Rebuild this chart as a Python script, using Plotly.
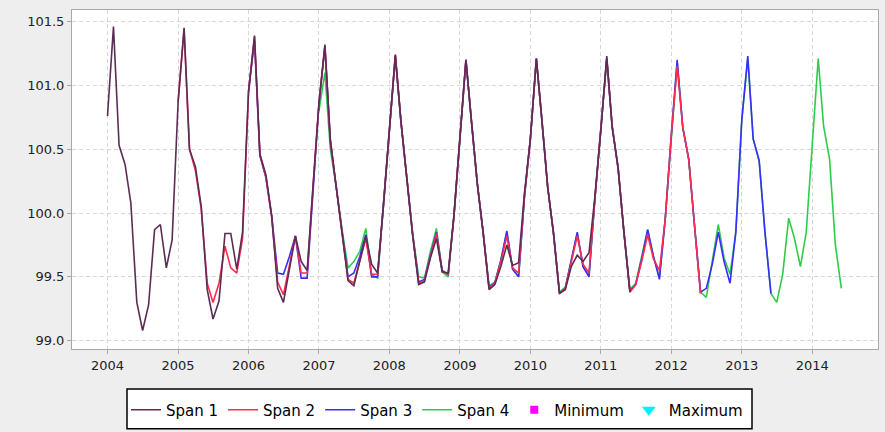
import pandas as pd
import plotly.graph_objects as go

# ---- data (monthly values) ----
span1_start = "2004-01-01"
span2_start = "2005-01-01"
span3_start = "2006-01-01"
span4_start = "2007-01-01"

span1 = (
    [100.76, 101.46, 100.53, 100.38, 100.08, 99.30, 99.08, 99.28, 99.87, 99.91, 99.57, 99.79]
    + [100.87, 101.45, 100.50, 100.36, 100.05, 99.40, 99.17, 99.31, 99.84, 99.84, 99.56, 99.85]
    + [100.95, 101.39, 100.46, 100.30, 99.98, 99.41, 99.30, 99.55, 99.82, 99.62, 99.55, 100.20]
    + [100.86, 101.32, 100.58, 100.20, 99.83, 99.47, 99.43, 99.62, 99.82, 99.60, 99.53, 100.05]
    + [100.68, 101.24, 100.72, 100.27, 99.82, 99.44, 99.46, 99.65, 99.80, 99.54, 99.53, 99.98]
    + [100.58, 101.20, 100.73, 100.23, 99.85, 99.40, 99.44, 99.58, 99.75, 99.59, 99.61, 100.15]
    + [100.58, 101.21, 100.74, 100.20, 99.84, 99.37, 99.40, 99.58, 99.67, 99.62, 99.69, 100.12]
    + [100.64, 101.23, 100.67, 100.35, 99.85, 99.38]
)
span2 = (
    [100.87, 101.44, 100.50, 100.33, 100.03, 99.45, 99.30, 99.45, 99.74, 99.57, 99.53, 99.80]
    + [100.95, 101.38, 100.46, 100.28, 99.97, 99.46, 99.36, 99.58, 99.82, 99.53, 99.53, 100.20]
    + [100.86, 101.31, 100.57, 100.20, 99.84, 99.48, 99.45, 99.63, 99.80, 99.52, 99.52, 100.05]
    + [100.68, 101.24, 100.72, 100.27, 99.83, 99.45, 99.47, 99.66, 99.84, 99.54, 99.52, 99.98]
    + [100.58, 101.20, 100.73, 100.23, 99.85, 99.41, 99.45, 99.62, 99.82, 99.57, 99.53, 100.13]
    + [100.58, 101.21, 100.74, 100.20, 99.84, 99.37, 99.41, 99.62, 99.82, 99.60, 99.53, 100.10]
    + [100.64, 101.21, 100.68, 100.35, 99.85, 99.38, 99.44, 99.62, 99.83, 99.64, 99.55, 99.95]
    + [100.60, 101.15, 100.67, 100.42, 99.90, 99.37]
)
span3 = (
    [100.95, 101.35, 100.45, 100.28, 99.98, 99.53, 99.52, 99.66, 99.82, 99.49, 99.49, 100.18]
    + [100.85, 101.30, 100.56, 100.20, 99.85, 99.50, 99.53, 99.66, 99.83, 99.50, 99.50, 100.05]
    + [100.68, 101.23, 100.72, 100.27, 99.83, 99.46, 99.48, 99.67, 99.85, 99.55, 99.52, 99.98]
    + [100.58, 101.20, 100.73, 100.23, 99.85, 99.42, 99.45, 99.63, 99.86, 99.56, 99.50, 100.12]
    + [100.58, 101.21, 100.74, 100.20, 99.84, 99.37, 99.41, 99.63, 99.85, 99.58, 99.50, 100.10]
    + [100.64, 101.21, 100.68, 100.35, 99.85, 99.39, 99.44, 99.64, 99.87, 99.66, 99.48, 99.95]
    + [100.60, 101.20, 100.67, 100.42, 99.90, 99.38, 99.41, 99.60, 99.85, 99.62, 99.45, 99.85]
    + [100.73, 101.23, 100.58, 100.41, 99.85, 99.37]
)
span4 = (
    [100.80, 101.10, 100.50, 100.20, 99.87, 99.57, 99.62, 99.70, 99.88, 99.52, 99.49, 100.05]
    + [100.68, 101.22, 100.72, 100.27, 99.84, 99.50, 99.49, 99.70, 99.88, 99.54, 99.50, 99.98]
    + [100.58, 101.19, 100.73, 100.23, 99.85, 99.43, 99.46, 99.63, 99.85, 99.56, 99.50, 100.12]
    + [100.58, 101.20, 100.74, 100.20, 99.84, 99.38, 99.42, 99.62, 99.84, 99.58, 99.51, 100.10]
    + [100.64, 101.20, 100.68, 100.35, 99.85, 99.40, 99.45, 99.65, 99.87, 99.66, 99.50, 99.95]
    + [100.60, 101.18, 100.67, 100.42, 99.90, 99.38, 99.34, 99.62, 99.91, 99.65, 99.52, 99.85]
    + [100.73, 101.21, 100.58, 100.41, 99.85, 99.37, 99.30, 99.52, 99.96, 99.80, 99.58, 99.85]
    + [100.55, 101.21, 100.68, 100.42, 99.75, 99.41]
)

y_ticks = [99.0, 99.5, 100.0, 100.5, 101.0, 101.5]
names = ["Span 1", "Span 2", "Span 3", "Span 4"]
colors = ["#5a2d55", "#ff2a50", "#3a2bff", "#2fcc4c"]

series = [
    (span1_start, span1),
    (span2_start, span2),
    (span3_start, span3),
    (span4_start, span4),
]

fig = go.Figure()
# draw Span 4 first so Span 1 lies on top
for idx in [3, 2, 1, 0]:
    start, vals = series[idx]
    x = pd.date_range(start, periods=len(vals), freq="MS")
    fig.add_trace(go.Scatter(
        x=x, y=vals, mode="lines", name=names[idx],
        line=dict(color=colors[idx], width=1.6),
        legendrank=idx + 1,
    ))

fig.add_trace(go.Scatter(
    x=[None], y=[None], mode="markers", name="Minimum",
    marker=dict(symbol="square", color="#ff00ff", size=8),
    legendrank=5,
))
fig.add_trace(go.Scatter(
    x=[None], y=[None], mode="markers", name="Maximum",
    marker=dict(symbol="triangle-down", color="#00f0ff", size=12),
    legendrank=6,
))

font_family = "DejaVu Sans"
W, H = 885, 432
ML, MR, MT, MB = 72, 7, 10, 82
pw, ph = W - ML - MR, H - MT - MB


def px_to_paper_x(px):
    return (px - ML) / pw


def px_to_paper_y(py):
    return (H - MB - py) / ph


# legend frame (drawn as a shape so its size matches the reference)
fig.add_shape(
    type="rect", xref="paper", yref="paper",
    x0=px_to_paper_x(127), x1=px_to_paper_x(752),
    y0=px_to_paper_y(430), y1=px_to_paper_y(390),
    line=dict(color="#000000", width=1.5), fillcolor="#ffffff",
    layer="above",
)

fig.update_layout(
    width=W, height=H,
    margin=dict(l=ML, r=MR, t=MT, b=MB),
    paper_bgcolor="#eeeeee",
    plot_bgcolor="#ffffff",
    font=dict(family=font_family, size=13, color="#222222"),
    showlegend=True,
    legend=dict(
        orientation="h",
        x=px_to_paper_x(126), xanchor="left",
        y=px_to_paper_y(410), yanchor="middle",
        bgcolor="rgba(0,0,0,0)",
        borderwidth=0,
        font=dict(family=font_family, size=15, color="#000000"),
        itemwidth=30,
    ),
)
fig.update_xaxes(
    type="date",
    range=["2003-07-01", "2014-12-08"],
    tick0="2004-01-01", dtick="M12", tickformat="%Y",
    showgrid=True, gridcolor="#d6d6d6", griddash="4px,3px", gridwidth=1,
    showline=True, linecolor="#a8a8a8", linewidth=1, mirror=True,
    ticks="outside", ticklen=4, tickcolor="#a8a8a8",
    zeroline=False, automargin=False,
    tickfont=dict(size=13, color="#222222"),
)
fig.update_yaxes(
    range=[98.935, 101.59],
    tickvals=y_ticks, tickformat=".1f",
    showgrid=True, gridcolor="#d6d6d6", griddash="4px,3px", gridwidth=1,
    showline=True, linecolor="#a8a8a8", linewidth=1, mirror=True,
    ticks="outside", ticklen=4, tickcolor="#a8a8a8",
    zeroline=False, automargin=False,
    tickfont=dict(size=13, color="#222222"),
)

fig.write_html(
    "out.html",
    config={"displayModeBar": False},
    post_script="document.body.style.margin='0';document.body.style.background='#eeeeee';",
)
